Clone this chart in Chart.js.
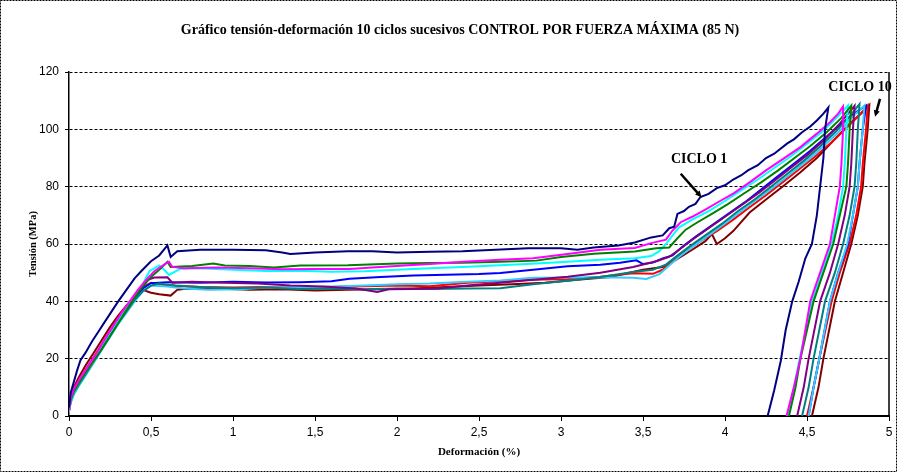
<!DOCTYPE html>
<html>
<head>
<meta charset="utf-8">
<script src="https://cdn.jsdelivr.net/npm/chart.js@4.4.0/dist/chart.umd.min.js"></script>
<style>
html, body { margin: 0; padding: 0; background: #fff; }
#wrap { width: 897px; height: 472px; }
</style>
</head>
<body>
<div id="wrap"><canvas id="chart" width="897" height="472"></canvas></div>
<script>
// Axis ticks
const xTicks = [0, 0.5, 1, 1.5, 2, 2.5, 3, 3.5, 4, 4.5, 5];
const yTicks = [0, 20, 40, 60, 80, 100, 120];

// Deformación (%) / Tensión (MPa) per cycle
const ciclo1 = [[0,3],[0.01,8],[0.03,12],[0.05,16],[0.07,19.5],[0.1,22],[0.14,26],[0.18,29.5],[0.22,33],[0.26,36.5],[0.3,40],[0.35,44],[0.4,48],[0.44,50.5],[0.5,54],[0.55,56],[0.6,59.5],[0.62,55.5],[0.66,57.5],[0.8,58],[1,58],[1.2,57.8],[1.3,57],[1.35,56.5],[1.5,57],[1.7,57.5],[1.85,57.5],[2,57],[2.2,57.3],[2.4,57.5],[2.6,58],[2.8,58.5],[3,58.5],[3.1,58],[3.2,58.8],[3.35,59.5],[3.45,60.5],[3.55,62.3],[3.62,63],[3.66,65.5],[3.69,66],[3.71,70.5],[3.75,71.5],[3.78,73],[3.82,74],[3.85,76.4],[3.9,77.5],[3.95,79.5],[4,80.5],[4.05,82.5],[4.1,84],[4.14,85.7],[4.2,87.5],[4.25,90],[4.3,91.5],[4.38,95.1],[4.42,96.5],[4.47,99],[4.52,101],[4.56,103.1],[4.6,105.5],[4.63,107.6],[4.61,100],[4.6,90],[4.58,80],[4.56,70],[4.53,60],[4.49,55],[4.45,47],[4.41,40],[4.37,30],[4.34,19.2],[4.3,9],[4.26,0]];
const ciclo2 = [[0,2],[0.01,6],[0.03,9.5],[0.06,12.5],[0.1,16],[0.14,19.5],[0.18,23],[0.22,27],[0.27,31.5],[0.32,36],[0.37,40],[0.42,44],[0.47,47.5],[0.52,50.5],[0.58,52.8],[0.61,53.8],[0.63,52],[0.7,51.5],[0.9,51.8],[1.1,51.5],[1.3,51.2],[1.5,51.3],[1.71,51.3],[1.85,51.8],[2.02,52.4],[2.2,53],[2.43,53.9],[2.63,54.5],[2.83,55],[3.04,56.5],[3.24,58],[3.45,58.6],[3.55,60.3],[3.64,61.5],[3.68,64.7],[3.73,67.6],[3.8,69.5],[3.88,72],[3.97,75],[4.05,77.6],[4.15,81.5],[4.25,85.7],[4.35,89.5],[4.46,93.8],[4.56,98.5],[4.64,102.5],[4.69,105.5],[4.72,108],[4.72,100],[4.71,88],[4.7,80],[4.67,70],[4.64,60],[4.58,50],[4.52,40],[4.46,20],[4.42,10],[4.375,0]];
const ciclo3 = [[0,2.5],[0.01,5.5],[0.03,8.5],[0.06,11.5],[0.1,15],[0.14,18.5],[0.19,22.5],[0.24,27],[0.29,31.5],[0.34,36],[0.39,40.5],[0.44,44.5],[0.5,48.5],[0.56,51.5],[0.6,53.8],[0.62,52],[0.75,52.3],[0.88,53.2],[0.95,52.5],[1.1,52.3],[1.25,51.8],[1.41,52.5],[1.7,52.6],[2,53.2],[2.2,53.4],[2.4,53.5],[2.63,53.8],[2.85,54.2],[3,55.5],[3.2,56.6],[3.45,57.4],[3.58,58.5],[3.66,58.8],[3.71,62],[3.76,65],[3.83,67.5],[3.92,70.5],[4.02,74],[4.12,77.8],[4.22,81.5],[4.32,85.5],[4.42,89.8],[4.52,94.2],[4.62,99],[4.71,104],[4.77,108.3],[4.76,100],[4.75,88],[4.74,80],[4.7,70],[4.66,60],[4.6,50],[4.54,40],[4.46,20],[4.43,10],[4.39,0]];
const ciclo4 = [[0,1.5],[0.01,5],[0.03,8],[0.06,11.5],[0.1,15],[0.15,19.5],[0.2,24],[0.25,28.5],[0.3,33],[0.35,37.5],[0.4,41.5],[0.45,46],[0.49,50.5],[0.55,52.5],[0.58,51],[0.61,49.2],[0.68,51.4],[0.8,51.5],[1,51],[1.2,50.6],[1.41,50.7],[1.6,50.3],[1.8,50.5],[2,51],[2.2,51.5],[2.4,52],[2.63,52.6],[2.85,53.2],[3.04,53.8],[3.24,54.5],[3.45,55],[3.55,55.8],[3.6,57.5],[3.64,60],[3.68,63],[3.72,65.8],[3.8,68.5],[3.9,71.5],[4,75],[4.1,78.8],[4.2,82.5],[4.3,86.5],[4.4,90.5],[4.5,95],[4.6,99.5],[4.68,104],[4.75,108.3],[4.74,100],[4.73,88],[4.72,80],[4.69,70],[4.65,60],[4.59,50],[4.53,40],[4.455,20],[4.42,10],[4.38,0]];
const ciclo5 = [[0,2],[0.01,5.5],[0.03,8.5],[0.06,12],[0.1,15.5],[0.15,20],[0.2,24.5],[0.25,29],[0.3,33.5],[0.35,37.5],[0.4,41.5],[0.44,44.5],[0.48,47.5],[0.52,48.3],[0.6,48.4],[0.63,46.5],[0.75,46.8],[0.95,46.5],[1.15,46.2],[1.35,45.5],[1.55,45.2],[1.75,44.5],[1.88,43.3],[1.95,44.2],[2.1,44.3],[2.25,44.5],[2.43,45.5],[2.63,46.5],[2.83,47.5],[3.04,48.6],[3.24,50],[3.44,52],[3.58,54],[3.66,55.5],[3.72,58],[3.8,61.5],[3.9,65.5],[4,69.5],[4.1,73.5],[4.21,78],[4.3,82],[4.4,86.5],[4.5,91],[4.6,96],[4.7,102],[4.79,108.2],[4.78,100],[4.77,88],[4.76,80],[4.73,70],[4.69,60],[4.64,50],[4.58,40],[4.51,20],[4.48,10],[4.44,0]];
const ciclo6 = [[0,2],[0.01,5],[0.03,8],[0.06,11],[0.1,14.5],[0.15,19],[0.2,23.5],[0.25,28],[0.3,32.5],[0.35,36.5],[0.4,40.5],[0.45,43.5],[0.5,45.5],[0.55,46.2],[0.65,45.5],[0.8,45],[1,44.6],[1.2,44.8],[1.4,44.3],[1.6,44.5],[1.8,44.2],[2,44.5],[2.2,44.3],[2.43,44.5],[2.63,44.6],[2.83,46],[3.04,47.2],[3.24,48.5],[3.44,50.2],[3.56,51],[3.64,52.8],[3.7,55.5],[3.78,59],[3.88,63],[3.98,67],[4.08,71.5],[4.18,75.5],[4.28,80],[4.38,84.5],[4.48,89],[4.58,94],[4.68,99.5],[4.76,104.5],[4.82,108.8],[4.81,100],[4.8,88],[4.79,80],[4.76,70],[4.72,60],[4.67,50],[4.61,40],[4.54,20],[4.51,10],[4.47,0]];
const ciclo7 = [[0,1.5],[0.01,4.5],[0.03,7.5],[0.06,10.5],[0.1,14],[0.15,18.5],[0.2,23],[0.25,27.5],[0.3,32],[0.35,36],[0.4,40],[0.45,43.5],[0.5,45.5],[0.6,45.2],[0.7,44.5],[0.85,44],[1.05,44.2],[1.2,44.8],[1.41,44.8],[1.6,45.2],[1.8,45.5],[2,46],[2.2,46.2],[2.43,46.8],[2.63,47.3],[2.83,48.2],[3.04,48.3],[3.24,48.4],[3.44,48.2],[3.52,47.8],[3.6,49.5],[3.66,52.5],[3.72,55.5],[3.8,59],[3.9,63],[4,67.2],[4.1,71.5],[4.2,75.8],[4.3,80],[4.4,84.5],[4.5,89],[4.6,94],[4.7,99.5],[4.78,104.5],[4.85,108.3],[4.84,100],[4.82,88],[4.81,80],[4.78,70],[4.745,60],[4.69,50],[4.64,40],[4.575,20],[4.54,10],[4.51,0]];
const ciclo8 = [[0,2],[0.01,5.5],[0.03,8.5],[0.06,11.5],[0.1,15],[0.15,19.5],[0.2,24],[0.25,28.5],[0.3,33],[0.35,37],[0.4,41],[0.45,44.5],[0.5,46.3],[0.6,46.7],[0.8,46.5],[1,46.8],[1.2,46.6],[1.41,46.7],[1.6,47],[1.71,47.9],[1.9,48.5],[2.1,49],[2.3,49.3],[2.5,49.5],[2.63,49.9],[2.83,51],[3.04,52.2],[3.24,52.8],[3.36,53.5],[3.46,54.3],[3.5,53],[3.56,53.5],[3.62,55],[3.68,56],[3.74,59],[3.82,62.5],[3.92,66.5],[4.02,70.5],[4.12,74.5],[4.22,79],[4.32,83.5],[4.42,88],[4.52,92.5],[4.62,97.5],[4.72,102.5],[4.8,106],[4.86,108.3],[4.84,100],[4.82,88],[4.81,80],[4.78,70],[4.75,60],[4.69,50],[4.64,40],[4.575,20],[4.54,10],[4.51,0]];
const ciclo9 = [[0,1.5],[0.01,5],[0.03,8.5],[0.06,12],[0.1,16],[0.15,20.5],[0.2,25],[0.25,29.5],[0.3,34],[0.35,38],[0.4,42],[0.45,45],[0.5,46.5],[0.6,45.5],[0.8,45],[1,44.8],[1.2,45],[1.41,44.7],[1.6,45],[1.8,45.3],[2,45.5],[2.2,45.3],[2.43,46.5],[2.63,47],[2.83,47.5],[3.04,47.8],[3.24,48.6],[3.44,49.8],[3.56,49.6],[3.62,51],[3.68,54],[3.76,57.5],[3.85,61],[3.95,64.5],[4.05,68.5],[4.15,72.8],[4.25,77],[4.35,81.5],[4.45,86],[4.55,90.5],[4.65,95.5],[4.75,101],[4.82,105],[4.87,108.3],[4.86,100],[4.84,88],[4.83,80],[4.8,70],[4.76,60],[4.7,50],[4.65,40],[4.575,20],[4.54,10],[4.5,0]];
const ciclo10 = [[0,2],[0.01,6],[0.03,10],[0.06,13.5],[0.1,17.5],[0.15,22],[0.2,26.5],[0.25,31],[0.3,35],[0.35,38.5],[0.4,41.5],[0.45,44],[0.5,43],[0.55,42.5],[0.62,42],[0.66,44],[0.7,44.3],[0.9,44.5],[1.1,44],[1.3,44.2],[1.5,43.8],[1.7,44],[1.9,44.2],[2.1,44.5],[2.3,45],[2.5,45.5],[2.7,46],[2.9,46.5],[3.1,47.5],[3.3,48.5],[3.5,51],[3.62,52],[3.7,54.5],[3.8,58],[3.88,61],[3.92,63.5],[3.95,60],[4,62],[4.05,64.5],[4.15,71],[4.25,75.5],[4.35,80],[4.46,85],[4.56,90],[4.66,96],[4.76,102],[4.83,105.5],[4.88,108.5],[4.87,100],[4.85,88],[4.84,80],[4.81,70],[4.77,60],[4.72,50],[4.67,40],[4.6,20],[4.57,10],[4.53,0]];

const cycles = [ciclo1, ciclo2, ciclo3, ciclo4, ciclo5, ciclo6, ciclo7, ciclo8, ciclo9, ciclo10];
const cycleColors = ['#000080', '#FF00FF', '#008000', '#00FFFF', '#800080', '#008080', '#33CCFF', '#0000FF', '#FF0000', '#800000'];

// Labels on the chart (data coordinates)
const titleText = 'Gráfico tensión-deformación 10 ciclos sucesivos CONTROL POR FUERZA MÁXIMA (85 N)';
const xTitle = 'Deformación (%)';
const yTitle = 'Tensión (MPa)';
const notes = [
    { text: 'CICLO 1', at: [3.67, 89.5], from: [3.73, 84.5], to: [3.857, 76.3] },
    { text: 'CICLO 10', at: [4.63, 114.7], from: [4.945, 110.6], to: [4.915, 104.4] }
];

const serif = "'Liberation Serif', 'Times New Roman', serif";
const sans = "'Liberation Sans', Arial, sans-serif";

function drawArrow(ctx, x1, y1, x2, y2) {
    const ang = Math.atan2(y2 - y1, x2 - x1);
    const head = 7;
    ctx.beginPath();
    ctx.moveTo(x1, y1);
    ctx.lineTo(x2 - Math.cos(ang) * head * 0.8, y2 - Math.sin(ang) * head * 0.8);
    ctx.stroke();
    ctx.beginPath();
    ctx.moveTo(x2, y2);
    ctx.lineTo(x2 - head * Math.cos(ang - 0.45), y2 - head * Math.sin(ang - 0.45));
    ctx.lineTo(x2 - head * Math.cos(ang + 0.45), y2 - head * Math.sin(ang + 0.45));
    ctx.closePath();
    ctx.fill();
}

const decorPlugin = {
    id: 'decor',
    beforeDraw(chart) {
        const ctx = chart.ctx;
        ctx.save();
        ctx.fillStyle = '#fff';
        ctx.fillRect(0, 0, chart.width, chart.height);
        ctx.restore();
    },
    afterDraw(chart) {
        const ctx = chart.ctx;
        const area = chart.chartArea;
        const xs = chart.scales.x, ys = chart.scales.y;
        ctx.save();

        // right edge of the plot
        ctx.strokeStyle = '#000';
        ctx.lineWidth = 1.5;
        ctx.beginPath();
        ctx.moveTo(area.right, area.top);
        ctx.lineTo(area.right, area.bottom);
        ctx.stroke();

        // titles
        ctx.fillStyle = '#000';
        ctx.textAlign = 'center';
        ctx.textBaseline = 'middle';
        ctx.font = 'bold 14px ' + serif;
        ctx.fillText(titleText, 460, 30);
        ctx.font = 'bold 11px ' + serif;
        ctx.fillText(xTitle, (area.left + area.right) / 2, 452);
        ctx.save();
        ctx.translate(33, (area.top + area.bottom) / 2);
        ctx.rotate(-Math.PI / 2);
        ctx.font = 'bold 10.5px ' + serif;
        ctx.fillText(yTitle, 0, 0);
        ctx.restore();

        // cycle notes with arrows (the last one runs off the right edge)
        ctx.save();
        ctx.beginPath();
        ctx.rect(0, 0, 893, chart.height);
        ctx.clip();
        ctx.font = 'bold 14px ' + serif;
        ctx.textAlign = 'left';
        ctx.lineWidth = 2.5;
        notes.forEach(n => {
            ctx.fillText(n.text, xs.getPixelForValue(n.at[0]), ys.getPixelForValue(n.at[1]));
            drawArrow(ctx,
                xs.getPixelForValue(n.from[0]), ys.getPixelForValue(n.from[1]),
                xs.getPixelForValue(n.to[0]), ys.getPixelForValue(n.to[1]));
        });
        ctx.restore();

        // dashed frame round the whole picture
        ctx.lineWidth = 1;
        ctx.setLineDash([2, 1]);
        ctx.strokeRect(0.5, 0.5, chart.width - 1, chart.height - 1);
        ctx.restore();
    }
};

new Chart(document.getElementById('chart'), {
    type: 'line',
    data: {
        datasets: cycles.map((c, i) => ({
            label: 'Ciclo ' + (i + 1),
            data: c,
            borderColor: cycleColors[i],
            borderWidth: 2,
            pointRadius: 0,
            fill: false,
            tension: 0
        }))
    },
    options: {
        responsive: false,
        animation: false,
        devicePixelRatio: 1,
        layout: { padding: { top: 72, right: 8, left: 0, bottom: 0 } },
        plugins: {
            legend: { display: false },
            tooltip: { enabled: false }
        },
        scales: {
            x: {
                type: 'linear',
                min: 0,
                max: 5,
                afterBuildTicks: s => { s.ticks = xTicks.map(v => ({ value: v })); },
                afterFit: s => { s.height = 56; },
                grid: { drawOnChartArea: false, drawTicks: true, tickLength: 5, color: '#000' },
                border: { color: '#000', width: 2 },
                ticks: {
                    color: '#000',
                    padding: 4,
                    maxRotation: 0,
                    font: { family: sans, size: 12 },
                    callback: v => String(v).replace('.', ',')
                }
            },
            y: {
                min: 0,
                max: 120,
                afterBuildTicks: s => { s.ticks = yTicks.map(v => ({ value: v })); },
                afterFit: s => { s.width = 69; },
                grid: { color: '#000', lineWidth: 1, tickLength: 4 },
                border: { color: '#000', width: 1.5, dash: [3, 2] },
                ticks: {
                    color: '#000',
                    padding: 6,
                    font: { family: sans, size: 12 }
                }
            }
        }
    },
    plugins: [decorPlugin]
});
</script>
</body>
</html>
